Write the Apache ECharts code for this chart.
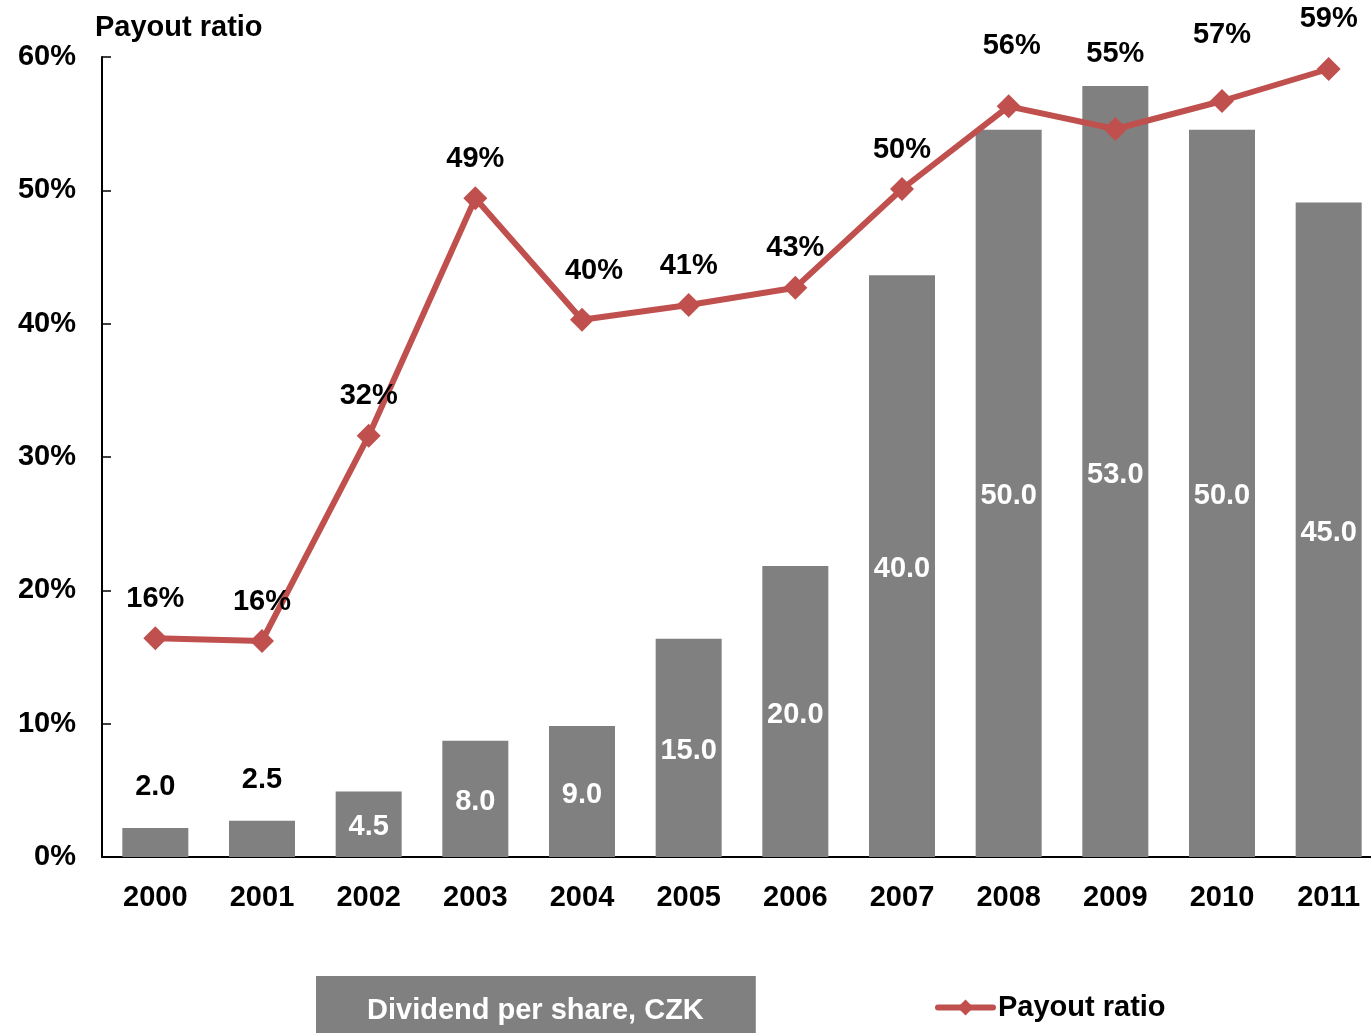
<!DOCTYPE html>
<html>
<head>
<meta charset="utf-8">
<title>Dividend per share and payout ratio</title>
<script src="https://cdn.jsdelivr.net/npm/echarts@6/dist/echarts.min.js"></script>
<style>
  html, body { margin: 0; padding: 0; background: #ffffff; }
  #chart { width: 1371px; height: 1033px; }
</style>
</head>
<body>
<div id="chart"></div>
<script>
// Years on the category axis
var years = ['2000', '2001', '2002', '2003', '2004', '2005', '2006', '2007', '2008', '2009', '2010', '2011'];
// Dividend per share, CZK
var dividend = [2.0, 2.5, 4.5, 8.0, 9.0, 15.0, 20.0, 40.0, 50.0, 53.0, 50.0, 45.0];
// Payout ratio, percent
var payout = [16.4, 16.2, 31.6, 49.4, 40.3, 41.4, 42.7, 50.1, 56.3, 54.6, 56.7, 59.1];
// Left axis ticks, percent
var payoutTicks = [0, 10, 20, 30, 40, 50, 60];

// Label nudges for the payout ratio labels that sit off the default spot
var payoutLabelNudge = [[0, 0], [0, 0], [0, 0], [0, 0], [12, -9], [0, 0], [0, 0], [0, 0], [3, -21], [0, -36], [0, -27], [0, -11]];

var FONT = '"Liberation Sans", Arial, sans-serif';
var FS = 29;
var GRAY = '#808080';
var RED = '#C0504D';

var barData = dividend.map(function (v) {
  var small = v < 3;
  return {
    value: v,
    label: small
      ? { position: 'top', distance: 26, color: '#000000' }
      : { position: 'inside', color: '#ffffff', offset: [0, 3] }
  };
});

var lineData = payout.map(function (v, i) {
  return { value: v, label: { offset: payoutLabelNudge[i] } };
});

var chart = echarts.init(document.getElementById('chart'), null, { renderer: 'canvas' });

chart.setOption({
  animation: false,
  backgroundColor: '#ffffff',
  textStyle: { fontFamily: FONT },
  grid: { left: 102, top: 57, bottom: 176, width: 1280, containLabel: false, outerBoundsMode: 'none' },
  legend: [
    {
      data: [{ name: 'Dividend per share, CZK', icon: 'rect' }],
      left: 316,
      top: 976,
      itemWidth: 0,
      itemHeight: 0,
      backgroundColor: GRAY,
      padding: [20, 52, 20, 46],
      selectedMode: false,
      textStyle: { color: '#ffffff', fontSize: FS, fontWeight: 'bold', fontFamily: FONT }
    },
    {
      data: ['Payout ratio'],
      left: 935,
      top: 993,
      padding: 0,
      itemWidth: 55,
      itemHeight: 20,
      selectedMode: false,
      lineStyle: { width: 6, cap: 'round' },
      textStyle: { color: '#000000', fontSize: FS, fontWeight: 'bold', fontFamily: FONT }
    }
  ],
  xAxis: {
    type: 'category',
    data: years,
    axisLine: { lineStyle: { color: '#000000', width: 2 } },
    axisTick: { show: false },
    axisLabel: { color: '#000000', fontSize: FS, fontWeight: 'bold', margin: 26, fontFamily: FONT }
  },
  yAxis: [
    {
      type: 'value',
      min: payoutTicks[0],
      max: payoutTicks[payoutTicks.length - 1],
      interval: payoutTicks[1] - payoutTicks[0],
      name: 'Payout ratio',
      nameLocation: 'end',
      nameGap: 29,
      nameTextStyle: {
        color: '#000000', fontSize: FS, fontWeight: 'bold', fontFamily: FONT,
        align: 'left', verticalAlign: 'middle', padding: [0, 0, 0, -7]
      },
      axisLine: { show: true, lineStyle: { color: '#000000', width: 2 } },
      axisTick: { show: true, inside: true, length: 9, lineStyle: { color: '#000000', width: 1.5 } },
      splitLine: { show: false },
      axisLabel: {
        color: '#000000', fontSize: FS, fontWeight: 'bold', margin: 26, fontFamily: FONT,
        formatter: '{value}%'
      }
    },
    {
      type: 'value',
      min: 0,
      max: 55,
      show: false,
      splitLine: { show: false }
    }
  ],
  series: [
    {
      name: 'Dividend per share, CZK',
      type: 'bar',
      yAxisIndex: 1,
      barWidth: 66,
      data: barData,
      itemStyle: { color: GRAY },
      label: {
        show: true,
        fontSize: FS,
        fontWeight: 'bold',
        fontFamily: FONT,
        formatter: function (p) { return p.value.toFixed(1); }
      },
      z: 2
    },
    {
      name: 'Payout ratio',
      type: 'line',
      yAxisIndex: 0,
      data: lineData,
      symbol: 'diamond',
      symbolSize: 24,
      lineStyle: { color: RED, width: 6 },
      itemStyle: { color: RED },
      label: {
        show: true,
        position: 'top',
        distance: 13,
        color: '#000000',
        fontSize: FS,
        fontWeight: 'bold',
        fontFamily: FONT,
        formatter: function (p) { return Math.round(p.value) + '%'; }
      },
      z: 3
    }
  ]
});
</script>
</body>
</html>
